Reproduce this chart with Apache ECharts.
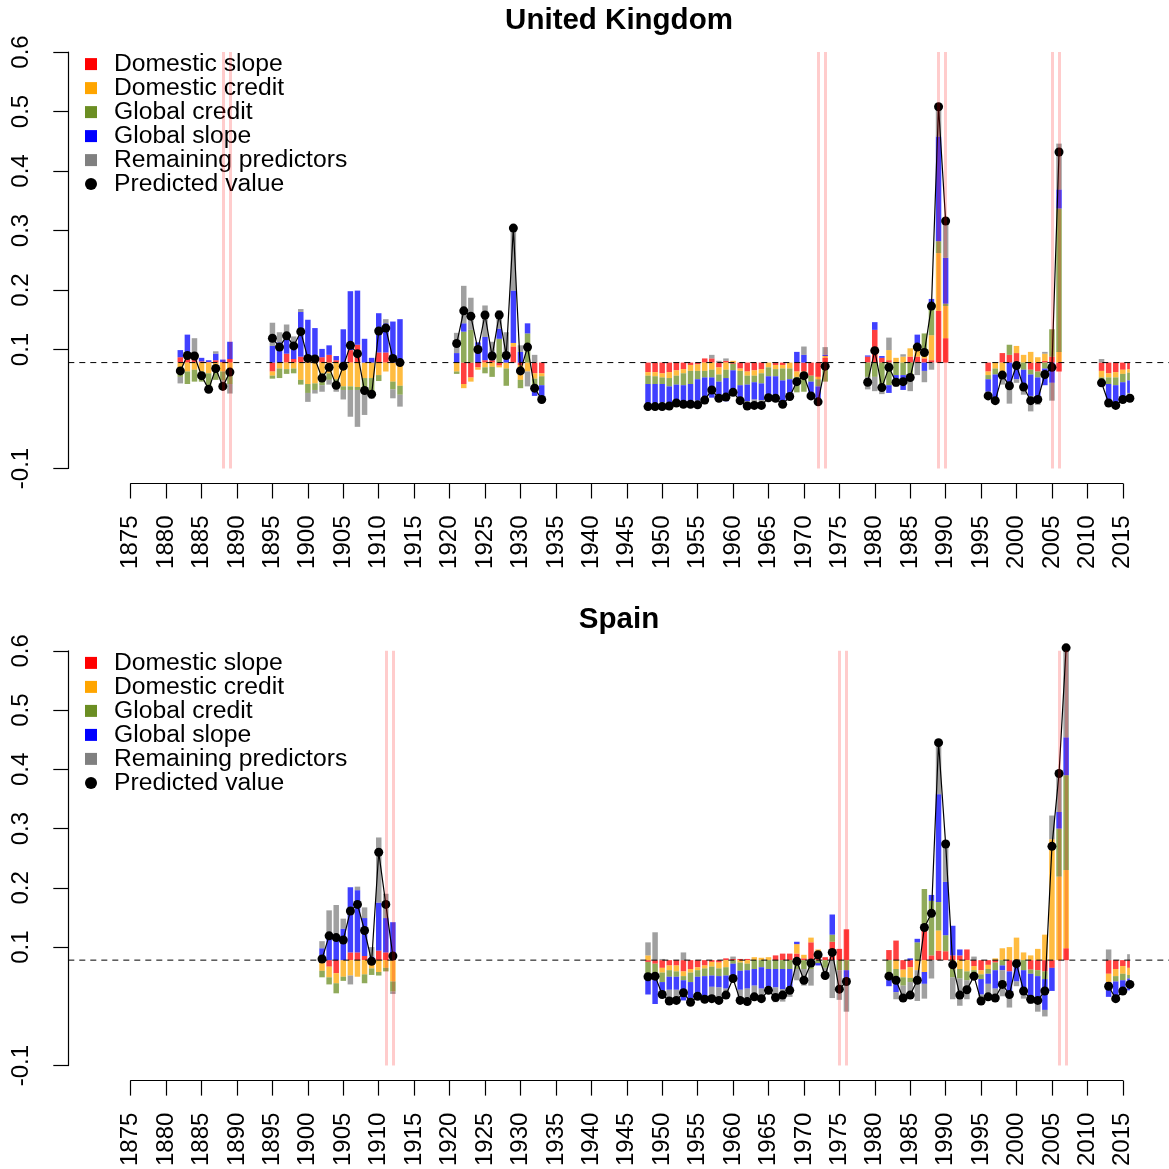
<!DOCTYPE html>
<html>
<head>
<meta charset="utf-8">
<title>Predicted values and contributions</title>
<script src="https://cdn.jsdelivr.net/npm/echarts@6/dist/echarts.min.js"></script>
<style>
  html, body { margin: 0; padding: 0; background: #fff; }
  #chart { width: 1169px; height: 1169px; }
</style>
</head>
<body>
<div id="chart"></div>
<script>
// Unconditional mean: bars show each group's contribution relative to it
const BASE = 0.078;

const COMPONENTS = ['Domestic slope', 'Domestic credit', 'Global credit', 'Global slope', 'Remaining predictors'];
const PREDICTED_NAME = 'Predicted value';
const Y_TICKS = [-0.1, 0.1, 0.2, 0.3, 0.4, 0.5, 0.6];

// ---------------- United Kingdom ----------------
const ukYears = [
  1882, 1883, 1884, 1885, 1886, 1887, 1888, 1889,
  1895, 1896, 1897, 1898, 1899, 1900, 1901, 1902, 1903, 1904, 1905, 1906, 1907, 1908, 1909, 1910, 1911, 1912, 1913,
  1921, 1922, 1923, 1924, 1925, 1926, 1927, 1928, 1929, 1930, 1931, 1932, 1933,
  1948, 1949, 1950, 1951, 1952, 1953, 1954, 1955, 1956, 1957, 1958, 1959, 1960, 1961, 1962, 1963, 1964, 1965, 1966, 1967, 1968, 1969, 1970, 1971, 1972, 1973,
  1979, 1980, 1981, 1982, 1983, 1984, 1985, 1986, 1987, 1988, 1989, 1990,
  1996, 1997, 1998, 1999, 2000, 2001, 2002, 2003, 2004, 2005, 2006,
  2012, 2013, 2014, 2015, 2016
];
const ukDomesticSlope = [
  0.009, 0.009, 0.010, 0.002, 0.001, 0.004, 0.001, 0.006,
  -0.015, 0, 0.015, 0.006, 0.010, 0.010, 0.009, 0.009, 0.013, 0.004, 0, 0.021, 0.030, 0, 0, 0.017, 0.017, 0, 0,
  0, -0.036, -0.025, -0.008, 0.004, 0.004, -0.005, 0, 0.027, -0.004, 0, -0.018, -0.018,
  -0.016, -0.016, -0.018, -0.016, -0.013, -0.011, -0.004, -0.003, 0.007, 0.007, -0.008, 0.003, -0.002, -0.010, -0.015, -0.013, -0.011, 0, -0.004, -0.004, 0, -0.015, -0.015, -0.022, -0.024, 0.008,
  0.010, 0.055, 0.008, 0.004, 0, 0, 0.010, 0.010, 0.007, 0.004, 0.087, 0.041,
  -0.015, 0, 0.016, 0.013, 0.016, 0, -0.012, -0.015, 0.003, 0.010, -0.015,
  -0.014, -0.018, -0.016, -0.012, -0.011
];
const ukDomesticCredit = [
  -0.008, -0.015, -0.012, -0.015, -0.018, -0.015, -0.015, -0.011,
  -0.007, -0.010, -0.011, -0.010, -0.029, -0.036, -0.035, -0.018, -0.018, -0.028, -0.040, -0.040, -0.041, -0.026, -0.026, -0.021, -0.015, -0.032, -0.039,
  -0.015, -0.007, -0.007, -0.004, -0.008, -0.007, -0.003, -0.010, 0.006, -0.025, -0.015, -0.009, -0.005,
  -0.006, -0.007, -0.007, -0.010, -0.009, -0.007, -0.010, -0.011, -0.014, -0.012, -0.012, -0.012, 0.003, -0.004, -0.007, -0.009, -0.007, -0.008, -0.007, -0.006, -0.010, -0.009, -0.008, 0, -0.004, 0.003,
  0, 0, 0, 0.017, 0.008, 0.010, 0.014, 0.022, 0.014, 0.042, 0.097, 0.054,
  -0.006, -0.010, -0.015, 0, 0.012, 0.013, 0.018, 0.009, 0.012, 0, 0.018,
  -0.011, -0.007, -0.009, -0.007, -0.006
];
const ukGlobalCredit = [
  -0.016, -0.021, -0.020, -0.017, -0.025, -0.014, -0.015, -0.025,
  -0.005, -0.016, -0.008, -0.008, -0.008, -0.015, -0.011, -0.020, -0.011, -0.011, -0.006, -0.006, -0.005, -0.017, -0.028, -0.010, 0, -0.013, -0.015,
  -0.004, 0.052, 0.055, 0, -0.010, -0.017, 0.040, -0.029, 0, -0.014, 0.049, -0.017, -0.015,
  -0.014, -0.013, -0.011, -0.014, -0.015, -0.020, -0.022, -0.014, -0.011, -0.013, -0.012, -0.014, -0.011, -0.024, -0.015, -0.011, -0.017, -0.015, -0.012, -0.020, -0.018, -0.026, -0.026, -0.010, -0.012, -0.032,
  -0.024, -0.024, -0.038, -0.038, -0.021, -0.021, -0.026, 0, 0.028, 0.049, 0.020, 0.004,
  -0.007, -0.010, 0, 0.017, 0, -0.012, -0.008, -0.010, -0.010, 0.046, 0.241,
  -0.009, -0.011, -0.013, -0.014, -0.013
];
const ukGlobalSlope = [
  0.012, 0.038, 0, 0.006, 0.003, 0.011, 0.004, 0.029,
  0.028, 0.034, 0.035, 0.026, 0.075, 0.062, 0.049, 0.014, 0.016, 0.007, 0.056, 0.099, 0.091, 0.040, 0.008, 0.066, 0.049, 0.069, 0.073,
  0.016, 0.014, 0, 0.034, 0.039, 0.014, 0.017, 0.017, 0.088, 0.018, 0.017, -0.012, -0.020,
  -0.032, -0.032, -0.031, -0.028, -0.028, -0.030, -0.031, -0.036, -0.037, -0.034, -0.031, -0.039, -0.040, -0.024, -0.028, -0.029, -0.028, -0.036, -0.033, -0.039, -0.029, 0.018, 0.013, -0.024, -0.020, 0.002,
  0.002, 0.013, 0.003, -0.013, -0.012, -0.025, 0, 0.015, -0.014, 0.012, 0.176, 0.077,
  -0.021, -0.039, 0, -0.038, -0.028, -0.034, -0.036, -0.041, -0.028, -0.034, 0.032,
  -0.006, -0.029, -0.030, -0.024, -0.021
];
const ukRemaining = [
  -0.011, 0, 0.031, 0, -0.005, 0.004, -0.013, -0.016,
  0.039, 0.017, 0.014, 0.012, 0.005, -0.015, -0.006, -0.011, -0.008, -0.010, -0.016, -0.045, -0.062, -0.045, -0.007, 0, 0.007, -0.015, -0.020,
  0.034, 0.063, 0.054, 0, 0.053, 0.017, 0.031, 0.034, 0.105, 0.011, -0.025, 0.013, -0.004,
  -0.006, -0.006, -0.007, -0.005, -0.003, -0.002, -0.003, -0.007, -0.008, 0.006, 0.003, 0.004, 0, -0.002, -0.008, -0.010, -0.009, 0, -0.004, 0, 0, 0, 0.014, 0, -0.006, 0.013,
  -0.021, -0.024, -0.015, 0.021, -0.008, 0.004, -0.022, -0.021, -0.019, -0.012, 0.050, 0.062,
  -0.007, -0.005, -0.022, -0.031, -0.006, -0.008, -0.026, -0.005, 0.003, -0.030, 0.077,
  0.006, -0.003, -0.004, -0.005, -0.009
];
const ukPredicted = [
  0.064, 0.090, 0.089, 0.056, 0.033, 0.068, 0.038, 0.062,
  0.119, 0.104, 0.123, 0.106, 0.130, 0.085, 0.084, 0.052, 0.070, 0.040, 0.072, 0.107, 0.093, 0.031, 0.025, 0.131, 0.136, 0.085, 0.078,
  0.110, 0.165, 0.156, 0.100, 0.158, 0.089, 0.158, 0.090, 0.304, 0.064, 0.104, 0.035, 0.016,
  0.004, 0.004, 0.004, 0.005, 0.010, 0.008, 0.008, 0.007, 0.015, 0.032, 0.018, 0.020, 0.028, 0.014, 0.005, 0.006, 0.006, 0.019, 0.018, 0.008, 0.021, 0.046, 0.056, 0.022, 0.012, 0.072,
  0.045, 0.098, 0.036, 0.070, 0.045, 0.046, 0.053, 0.104, 0.095, 0.173, 0.508, 0.316,
  0.022, 0.014, 0.057, 0.039, 0.073, 0.037, 0.014, 0.016, 0.058, 0.070, 0.432,
  0.044, 0.010, 0.006, 0.016, 0.018
];
const ukCrisisLines = [1888, 1889, 1972, 1973, 1989, 1990, 2005, 2006];

// ---------------- Spain ----------------
const esYears = [
  1902, 1903, 1904, 1905, 1906, 1907, 1908, 1909, 1910, 1911, 1912,
  1948, 1949, 1950, 1951, 1952, 1953, 1954, 1955, 1956, 1957, 1958, 1959, 1960, 1961, 1962, 1963, 1964, 1965, 1966, 1967, 1968, 1969, 1970, 1971, 1972, 1973, 1974, 1975, 1976,
  1982, 1983, 1984, 1985, 1986, 1987, 1988, 1989, 1990, 1991, 1992, 1993, 1994, 1995, 1996, 1997, 1998, 1999, 2000, 2001, 2002, 2003, 2004, 2005, 2006, 2007,
  2013, 2014, 2015, 2016
];
const esDomesticSlope = [
  0, -0.011, -0.022, 0, 0.013, 0.013, 0.007, 0, 0.016, 0.013, 0,
  -0.003, -0.006, -0.013, -0.009, -0.009, -0.019, -0.015, -0.012, -0.009, -0.003, -0.004, 0.003, 0.002, 0.002, 0.002, 0, 0, 0, 0.008, 0.011, 0.011, 0.011, 0.003, 0.030, 0.012, 0.005, 0.031, 0.019, 0.052,
  0.017, 0.033, -0.016, -0.012, 0, 0.050, 0.008, 0.016, 0.015, 0.008, 0.008, 0.018, -0.010, -0.017, -0.008, -0.004, 0, -0.019, 0, 0, -0.016, -0.017, -0.019, -0.013, 0, 0.020,
  -0.023, -0.015, -0.010, -0.013
];
const esDomesticCredit = [
  -0.018, -0.018, -0.017, -0.028, -0.026, -0.028, -0.024, -0.014, -0.020, -0.013, -0.036,
  0.008, 0, -0.008, -0.008, -0.010, -0.008, -0.006, -0.005, -0.005, -0.008, -0.010, -0.012, 0, -0.004, -0.006, 0.005, 0.004, 0.005, 0, 0, 0, 0.016, 0.006, 0.008, 0.006, 0, 0, 0, 0,
  0, -0.015, -0.013, -0.018, -0.017, -0.020, 0, 0.034, 0, -0.015, -0.015, -0.019, -0.007, -0.007, -0.007, 0.003, 0.020, 0.022, 0.038, 0.013, 0.008, 0.019, 0.043, 0.204, 0.141, 0.132,
  -0.014, -0.012, -0.013, -0.012
];
const esGlobalCredit = [
  -0.011, -0.012, -0.017, -0.007, 0, 0, -0.015, -0.011, -0.006, -0.006, -0.017,
  -0.020, -0.020, -0.016, -0.011, -0.009, -0.007, -0.016, -0.011, -0.013, -0.015, -0.013, -0.014, -0.006, -0.014, -0.011, -0.015, -0.012, -0.015, -0.015, -0.015, -0.015, -0.015, -0.015, -0.015, -0.005, -0.013, 0.012, -0.017, -0.017,
  -0.023, -0.014, -0.014, -0.007, 0.030, 0.070, 0.092, 0.048, 0.027, -0.014, -0.016, -0.015, -0.010, -0.008, -0.008, -0.013, -0.009, 0, -0.006, -0.017, -0.007, -0.010, -0.013, 0, 0.081, 0.160,
  0, -0.009, -0.011, -0.006
];
const esGlobalSlope = [
  0.020, 0.041, 0.036, 0.053, 0.110, 0.105, 0.064, 0.006, 0.081, 0.058, 0.064,
  -0.035, -0.048, -0.022, -0.022, -0.022, -0.034, -0.028, -0.031, -0.035, -0.019, -0.019, -0.022, -0.031, -0.032, -0.031, -0.028, -0.036, -0.041, -0.031, -0.034, -0.034, 0.004, 0, 0, -0.004, 0, 0.034, 0, -0.017,
  -0.021, -0.025, 0, 0.003, 0.006, -0.020, 0.010, 0.182, 0.090, 0.050, 0.010, 0, -0.006, -0.026, -0.017, -0.031, -0.008, -0.041, -0.030, -0.037, -0.045, -0.046, -0.052, -0.039, 0.028, 0.064,
  -0.025, -0.029, -0.014, -0.020
];
const esRemaining = [
  0.012, 0.043, 0.057, 0.017, -0.015, 0.006, 0.018, 0.016, 0.110, 0.041, -0.004,
  0.022, 0.047, 0.002, -0.019, -0.018, 0.013, -0.006, -0.002, -0.004, -0.020, -0.022, -0.014, 0.004, -0.020, -0.024, -0.024, -0.021, 0, -0.025, -0.021, -0.013, -0.019, -0.028, -0.028, 0, -0.018, -0.064, -0.050, -0.053,
  0, -0.012, -0.022, -0.025, -0.052, -0.025, -0.031, 0.087, 0.064, -0.037, -0.046, -0.032, 0.006, -0.011, -0.022, -0.019, -0.044, -0.020, -0.008, -0.011, -0.006, -0.014, -0.011, 0.040, 0.065, 0.151,
  0.018, 0, -0.004, 0.010
];
const esPredicted = [
  0.080, 0.119, 0.116, 0.112, 0.161, 0.172, 0.128, 0.076, 0.260, 0.172, 0.085,
  0.050, 0.051, 0.020, 0.009, 0.010, 0.023, 0.007, 0.017, 0.012, 0.013, 0.010, 0.019, 0.047, 0.010, 0.008, 0.016, 0.013, 0.027, 0.015, 0.019, 0.027, 0.076, 0.044, 0.073, 0.087, 0.052, 0.091, 0.029, 0.042,
  0.051, 0.044, 0.014, 0.019, 0.044, 0.133, 0.157, 0.445, 0.274, 0.070, 0.019, 0.028, 0.051, 0.009, 0.016, 0.014, 0.037, 0.020, 0.072, 0.026, 0.012, 0.010, 0.026, 0.270, 0.393, 0.605,
  0.034, 0.013, 0.026, 0.037
];
const esCrisisLines = [1911, 1912, 1975, 1976, 2006, 2007];

// ---------------- Styling and layout ----------------
const COLORS = ['#ff0000', '#ffa500', '#6b8e23', '#0000ff', '#808080'];
const FONT = "'Liberation Sans', Arial, Helvetica, sans-serif";
const CHART_W = 1169;
const AXIS_X0 = 130.7;      // pixel of year 1875
const AXIS_X1 = 1122.8;     // pixel of year 2015
const YAXIS_LINE_X = 68.3;  // where the y axis is drawn
const PANEL_TOP = [52, 650.8];
const PANEL_H = 416.5;
const TICK_LEN = 15;

const panels = [
  { title: 'United Kingdom', years: ukYears,
    comps: [ukDomesticSlope, ukDomesticCredit, ukGlobalCredit, ukGlobalSlope, ukRemaining],
    predicted: ukPredicted, crises: ukCrisisLines },
  { title: 'Spain', years: esYears,
    comps: [esDomesticSlope, esDomesticCredit, esGlobalCredit, esGlobalSlope, esRemaining],
    predicted: esPredicted, crises: esCrisisLines }
];

const grid = [], xAxis = [], yAxis = [], series = [], legend = [], titles = [];

panels.forEach((p, i) => {
  grid.push({ left: AXIS_X0, width: AXIS_X1 - AXIS_X0, top: PANEL_TOP[i], height: PANEL_H, containLabel: false });

  xAxis.push({
    gridIndex: i, type: 'value', min: 1875, max: 2015, interval: 5,
    offset: TICK_LEN,
    axisLine: { show: true, onZero: false, lineStyle: { color: '#000', width: 1.2 } },
    axisTick: { show: true, length: TICK_LEN, lineStyle: { color: '#000', width: 1.2 } },
    axisLabel: { rotate: 90, fontSize: 24, fontFamily: FONT, color: '#000', margin: 32,
                 formatter: v => String(v) },
    splitLine: { show: false }
  });

  // visible axis in level units
  yAxis.push({
    gridIndex: i, type: 'value', min: -0.1, max: 0.6,
    offset: AXIS_X0 - YAXIS_LINE_X,
    axisLine: { show: true, onZero: false, lineStyle: { color: '#000', width: 1.2 } },
    axisTick: { show: true, length: TICK_LEN, customValues: Y_TICKS, lineStyle: { color: '#000', width: 1.2 } },
    axisLabel: { rotate: 90, fontSize: 24, fontFamily: FONT, color: '#000', margin: 35,
                 customValues: Y_TICKS, formatter: v => String(Math.round(v * 10) / 10) },
    splitLine: { show: false }
  });
  // hidden axis for contributions, zero placed at the mean
  yAxis.push({
    gridIndex: i, type: 'value', min: -0.1 - BASE, max: 0.6 - BASE, show: false,
    splitLine: { show: false }
  });

  const yLevel = 2 * i, yContrib = 2 * i + 1;

  // crisis markers
  series.push({
    type: 'line', name: 'crisis' + i, xAxisIndex: i, yAxisIndex: yLevel, data: [],
    silent: true, z: 1,
    markLine: {
      silent: true, symbol: ['none', 'none'], animation: false,
      label: { show: false },
      lineStyle: { color: 'rgba(255,0,0,0.2)', width: 3, type: 'solid' },
      emphasis: { disabled: true },
      data: p.crises.map(y => ({ xAxis: y }))
    }
  });

  // stacked contributions; value column first so the stack runs along y
  COMPONENTS.forEach((name, k) => {
    series.push({
      type: 'bar', name, xAxisIndex: i, yAxisIndex: yContrib,
      stack: 'contrib' + i, stackStrategy: 'samesign',
      encode: { x: 1, y: 0 },
      barWidth: 5.5, z: 2,
      itemStyle: { color: COLORS[k], opacity: 0.75 },
      emphasis: { disabled: true },
      data: p.years.map((y, j) => [p.comps[k][j], y])
    });
  });

  // predicted values, broken between separate sample periods
  const predData = [];
  p.years.forEach((y, j) => {
    if (j > 0 && y - p.years[j - 1] > 1) predData.push([p.years[j - 1] + 1, null]);
    predData.push([y, p.predicted[j]]);
  });
  series.push({
    type: 'line', name: PREDICTED_NAME, xAxisIndex: i, yAxisIndex: yLevel,
    data: predData, connectNulls: false, clip: false, z: 4,
    symbol: 'circle', symbolSize: 9, showSymbol: true,
    itemStyle: { color: '#000' },
    lineStyle: { color: '#000', width: 1.2 },
    emphasis: { disabled: true }
  });

  legend.push({
    left: 85, top: PANEL_TOP[i] - 0.4, orient: 'vertical', padding: 0,
    itemWidth: 12, itemHeight: 12, itemGap: -1,
    selectedMode: false,
    itemStyle: { opacity: 1 },
    textStyle: { fontSize: 24.7, lineHeight: 24, fontFamily: FONT, color: '#000', padding: [0, 0, 0, 12] },
    data: COMPONENTS.map(n => ({ name: n, icon: 'rect' })).concat([{ name: PREDICTED_NAME, icon: 'circle' }])
  });

  titles.push({
    type: 'text', x: 619, y: PANEL_TOP[i] - 31, silent: true,
    style: { text: p.title, font: 'bold 29.5px ' + FONT, fill: '#000', align: 'center', verticalAlign: 'middle' }
  });
});

const chart = echarts.init(document.getElementById('chart'), null, { renderer: 'canvas' });
chart.setOption({
  animation: false,
  backgroundColor: '#fff',
  grid, xAxis, yAxis, series, legend, graphic: titles
});

// dashed mean line, running from the y axis to the right edge of the page
const meanLines = panels.map((p, i) => {
  const yPix = chart.convertToPixel({ xAxisIndex: i, yAxisIndex: 2 * i }, [1875, BASE])[1];
  return {
    type: 'line', silent: true, z: 3,
    shape: { x1: YAXIS_LINE_X, y1: yPix, x2: CHART_W, y2: yPix },
    style: { stroke: '#000', lineWidth: 1, lineDash: [6, 5] }
  };
});
chart.setOption({ graphic: titles.concat(meanLines) });
</script>
</body>
</html>
